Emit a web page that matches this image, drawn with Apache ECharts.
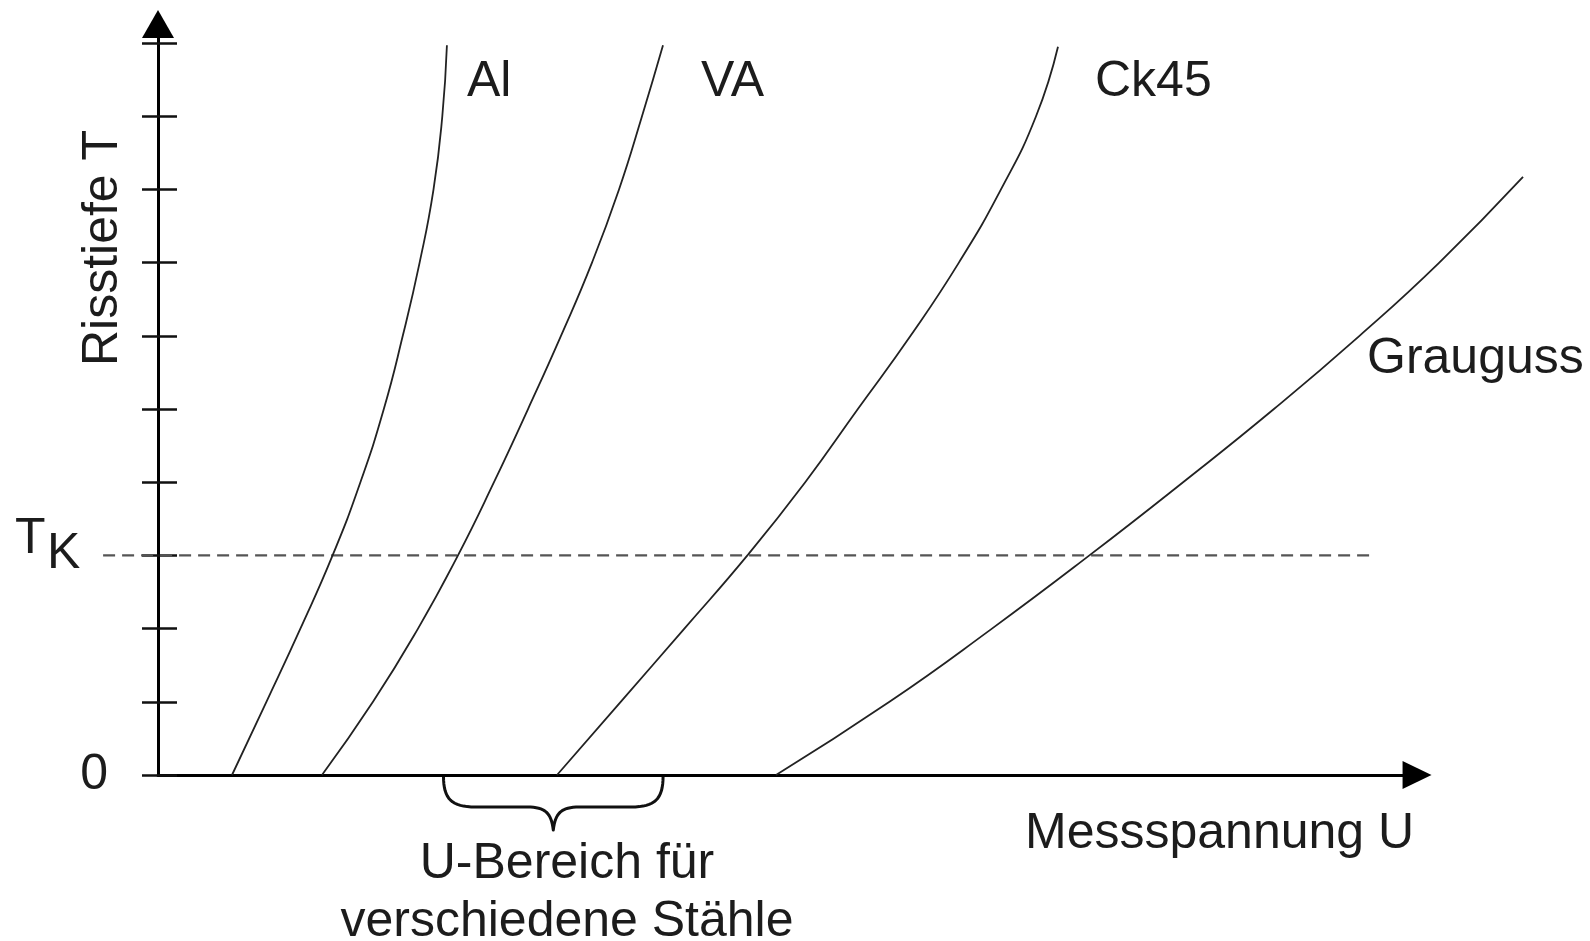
<!DOCTYPE html>
<html>
<head>
<meta charset="utf-8">
<script src="https://cdn.jsdelivr.net/npm/echarts@6/dist/echarts.min.js"></script>
<style>
html,body{margin:0;padding:0;background:#fff;}
#chart{width:1590px;height:941px;}
</style>
</head>
<body>
<div id="chart"></div>
<script>
// ---- data (x: Messspannung U, y: Risstiefe T, arbitrary units) ----
const alData = [[1.011,0],[1.481,1],[1.945,2],[2.385,3],[2.765,4],[3.085,5],[3.344,6],[3.574,7],[3.764,8],[3.884,9],[3.947,9.97]];
const vaData = [[2.240,0],[2.937,1],[3.552,2],[4.098,3],[4.590,4],[5.055,5],[5.505,6],[5.929,7],[6.298,8],[6.612,9],[6.899,9.97]];
const ck45Data = [[5.451,0],[6.321,1],[7.191,2],[8.052,3],[8.842,4],[9.561,5],[10.281,6],[10.941,7],[11.516,8],[11.995,9],[12.295,9.95]];
const graugussData = [[8.443,0],[9.993,1],[11.393,2],[12.724,3],[14.004,4],[15.245,5],[16.414,6],[17.504,7],[18.648,8.17]];
const tkValue = 3;
const tkRange = [-0.75, 16.61];
const yTickValues = [0,1,2,3,4,5,6,7,8,9,10];
const yLabelValues = [0];
const steelRange = [3.9, 6.9];
const seriesNames = ['Al','VA','Ck45','Grauguss'];

const FONT = '"Liberation Sans", Arial, sans-serif';
const INK = '#1c1c1c';
const chart = echarts.init(document.getElementById('chart'));

function curve(name, data) {
  return {
    name, type: 'line', data, smooth: 0.5, symbol: 'none', silent: true,
    xAxisIndex: 1, yAxisIndex: 2,
    lineStyle: { color: '#222', width: 1.8 }, z: 3
  };
}

const option = {
  animation: false,
  backgroundColor: '#ffffff',
  grid: [
    { left: 158, right: 172.96, top: 24, bottom: 166, outerBoundsMode: 'none' },
    { left: 84.8, right: 4.6, top: 24, bottom: 166, outerBoundsMode: 'none' }
  ],
  xAxis: [
    {
      type: 'value', min: 0, max: 17.2, gridIndex: 0,
      axisLine: { show: true, symbol: ['none', 'triangle'], symbolSize: [28, 29],
        lineStyle: { color: '#000', width: 3 } },
      axisTick: { show: false }, axisLabel: { show: false }, splitLine: { show: false }
    },
    {
      type: 'value', min: -1, max: 19.5, gridIndex: 1, show: false,
      axisLine: { show: false }, axisTick: { show: false }, axisLabel: { show: false }, splitLine: { show: false }
    }
  ],
  yAxis: [
    {
      type: 'value', min: 0, max: 10.26, interval: 1, position: 'left', gridIndex: 0,
      axisLine: { show: true, symbol: ['none', 'triangle'], symbolSize: [32, 28],
        lineStyle: { color: '#000', width: 3 } },
      axisTick: { show: true, inside: false, length: 16, customValues: yTickValues,
        lineStyle: { color: '#111', width: 2.5 } },
      axisLabel: { show: true, customValues: yLabelValues, margin: 50,
        fontSize: 50, fontFamily: FONT, color: INK },
      splitLine: { show: false }
    },
    {
      type: 'value', min: 0, max: 10.26, interval: 1, position: 'left', offset: 0, gridIndex: 0,
      axisLine: { show: false },
      axisTick: { show: true, inside: true, length: 19, customValues: yTickValues,
        lineStyle: { color: '#111', width: 2.5 } },
      axisLabel: { show: false }, splitLine: { show: false }
    },
    {
      type: 'value', min: 0, max: 10.26, gridIndex: 1, show: false,
      axisLine: { show: false }, axisTick: { show: false }, axisLabel: { show: false }, splitLine: { show: false }
    }
  ],
  series: [
    curve(seriesNames[0], alData),
    curve(seriesNames[1], vaData),
    curve(seriesNames[2], ck45Data),
    curve(seriesNames[3], graugussData),
    {
      name: 'TK', type: 'line', symbol: 'none', silent: true,
      xAxisIndex: 1, yAxisIndex: 2,
      data: [[tkRange[0], tkValue], [tkRange[1], tkValue]],
      lineStyle: { color: '#555', width: 2.2, type: [12, 7] }, z: 2
    }
  ]
};
chart.setOption(option);

// ---- annotations ----
const txt = (id, text, x, y, extra) => ({
  type: 'text', id, x, y, silent: true,
  style: Object.assign({ text, fill: INK, font: '50px ' + FONT, textAlign: 'left', textVerticalAlign: 'middle' }, extra || {})
});

// curly brace under the x axis, spanning the steel range
function cubic(p0, p1, p2, p3, n) {
  const out = [];
  for (let i = 0; i <= n; i++) {
    const t = i / n, u = 1 - t;
    out.push([
      u*u*u*p0[0] + 3*u*u*t*p1[0] + 3*u*t*t*p2[0] + t*t*t*p3[0],
      u*u*u*p0[1] + 3*u*u*t*p1[1] + 3*u*t*t*p2[1] + t*t*t*p3[1]
    ]);
  }
  return out;
}
const a = chart.convertToPixel({ gridIndex: 0 }, [steelRange[0], 0]);
const b = chart.convertToPixel({ gridIndex: 0 }, [steelRange[1], 0]);
const x1 = a[0], x2 = b[0], y0 = a[1], mid = (x1 + x2) / 2;
const d = 32, tip = 55;
let pts = [];
pts = pts.concat(cubic([x1, y0 + 1], [x1, y0 + 24], [x1 + 8, y0 + d], [x1 + 32, y0 + d], 16));
pts = pts.concat(cubic([mid - 26, y0 + d], [mid - 8, y0 + d], [mid - 2, y0 + 38], [mid, y0 + tip], 16));
pts = pts.concat(cubic([mid, y0 + tip], [mid + 2, y0 + 38], [mid + 8, y0 + d], [mid + 26, y0 + d], 16));
pts = pts.concat(cubic([x2 - 32, y0 + d], [x2 - 8, y0 + d], [x2, y0 + 24], [x2, y0 + 1], 16));

chart.setOption({
  graphic: [
    txt('al', 'Al', 467, 82),
    txt('va', 'VA', 701, 82),
    txt('ck', 'Ck45', 1095, 82),
    txt('gg', 'Grauguss', 1367, 359),
    txt('tk1', 'T', 15, 539),
    txt('tk2', 'K', 47, 554),
    txt('xname', 'Messspannung U', 1025, 834),
    txt('range', 'U-Bereich für\nverschiedene Stähle', 567, 893, { textAlign: 'center', lineHeight: 58 }),
    {
      type: 'text', id: 'yname', x: 103, y: 248, rotation: Math.PI / 2, silent: true,
      style: { text: 'Risstiefe T', fill: INK, font: '50px ' + FONT, textAlign: 'center', textVerticalAlign: 'middle' }
    },
    {
      type: 'polyline', id: 'brace', silent: true,
      shape: { points: pts },
      style: { fill: null, stroke: '#111', lineWidth: 3, lineJoin: 'round' }
    }
  ]
});
</script>
</body>
</html>
